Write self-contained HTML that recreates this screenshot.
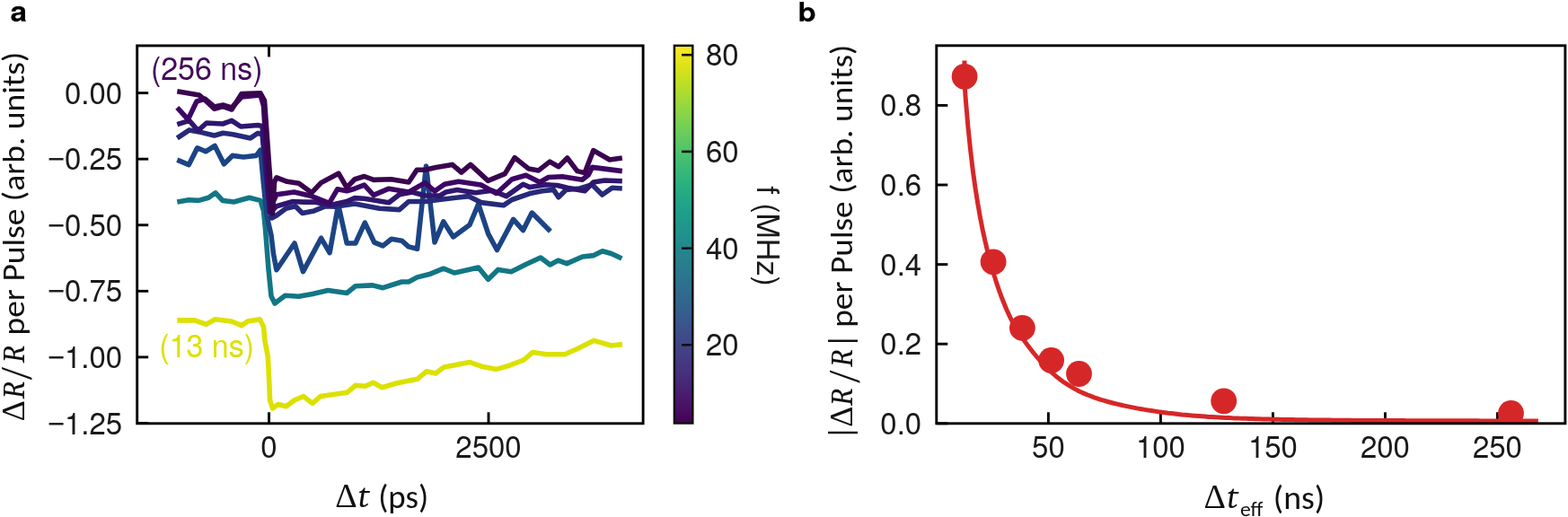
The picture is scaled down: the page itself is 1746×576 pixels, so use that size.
<!DOCTYPE html>
<html><head><meta charset="utf-8"><title>Figure</title>
<style>html,body{margin:0;padding:0;background:#fff;}body{width:1746px;height:576px;overflow:hidden;}svg{display:block;}</style>
</head><body>
<svg width="1746" height="576" viewBox="0 0 1746 576">
<defs>
<linearGradient id="vir" x1="0" y1="0" x2="0" y2="1"><stop offset="0.0000" stop-color="#fde725"/><stop offset="0.0312" stop-color="#ece51b"/><stop offset="0.0625" stop-color="#d8e219"/><stop offset="0.0938" stop-color="#c2df23"/><stop offset="0.1250" stop-color="#addc30"/><stop offset="0.1562" stop-color="#98d83e"/><stop offset="0.1875" stop-color="#84d44b"/><stop offset="0.2188" stop-color="#70cf57"/><stop offset="0.2500" stop-color="#5ec962"/><stop offset="0.2812" stop-color="#4ec36b"/><stop offset="0.3125" stop-color="#3fbc73"/><stop offset="0.3438" stop-color="#32b67a"/><stop offset="0.3750" stop-color="#28ae80"/><stop offset="0.4062" stop-color="#22a785"/><stop offset="0.4375" stop-color="#1fa088"/><stop offset="0.4688" stop-color="#1f988b"/><stop offset="0.5000" stop-color="#21918c"/><stop offset="0.5312" stop-color="#23898e"/><stop offset="0.5625" stop-color="#26828e"/><stop offset="0.5938" stop-color="#297a8e"/><stop offset="0.6250" stop-color="#2c728e"/><stop offset="0.6562" stop-color="#2f6b8e"/><stop offset="0.6875" stop-color="#33638d"/><stop offset="0.7188" stop-color="#375b8d"/><stop offset="0.7500" stop-color="#3b528b"/><stop offset="0.7812" stop-color="#3e4989"/><stop offset="0.8125" stop-color="#424086"/><stop offset="0.8438" stop-color="#453781"/><stop offset="0.8750" stop-color="#472d7b"/><stop offset="0.9062" stop-color="#482374"/><stop offset="0.9375" stop-color="#48186a"/><stop offset="0.9688" stop-color="#470d60"/><stop offset="1.0000" stop-color="#440154"/></linearGradient>
<clipPath id="clipa"><rect x="152.7" y="50.9" width="563.4000000000001" height="420.90000000000003"/></clipPath>
<clipPath id="clipb"><rect x="1042.8" y="50.8" width="700.1000000000001" height="421.0"/></clipPath>
</defs>
<rect width="1746" height="576" fill="#fff"/>
<g clip-path="url(#clipa)" fill="none" stroke-linejoin="round" stroke-linecap="butt">
<polyline points="197.3,356.9 217.0,356.9 229.5,361.4 239.6,355.8 257.7,358.0 269.0,362.6 275.7,358.0 289.3,355.8 293.5,364.0 295.0,380.0 298.3,397.0 299.5,420.0 300.6,446.0 303.5,455.0 309.6,450.5 318.6,452.8 327.6,446.0 337.8,441.5 347.9,449.4 356.9,441.5 386.6,437.2 395.9,429.4 406.9,430.2 415.5,426.2 425.6,431.7 441.2,427.0 464.7,422.3 474.8,413.8 485.0,416.1 494.4,409.0 523.3,403.6 537.5,408.6 552.8,411.4 565.3,407.9 583.3,401.0 593.0,392.6 608.3,394.7 629.2,394.7 643.0,388.5 661.1,379.4 680.6,385.0 693.0,383.6" stroke="#dce100" stroke-width="5.6"/>
<polyline points="197.3,225.0 210.3,222.7 221.2,223.4 232.2,220.3 240.0,214.8 247.8,223.4 260.3,225.0 277.5,220.3 290.0,223.4 293.5,235.0 295.5,255.0 299.0,300.0 302.0,330.0 306.0,338.0 317.5,329.3 332.8,330.3 348.0,327.4 365.2,323.6 386.2,326.5 395.8,318.8 414.9,317.9 426.4,320.7 447.4,314.0 455.0,314.0 464.6,308.9 479.2,305.2 493.8,299.2 505.9,304.0 532.7,298.0 543.6,311.3 554.6,300.4 569.2,302.8 586.2,294.3 602.0,287.0 612.5,295.0 621.5,290.1 631.2,293.6 648.6,286.0 661.1,284.6 670.8,279.7 680.6,282.5 692.4,288.0" stroke="#127685" stroke-width="5.6"/>
<polyline points="197.3,178.1 210.3,183.6 219.7,164.8 229.0,168.8 239.2,162.5 249.4,182.8 258.8,173.4 271.2,175.0 285.3,173.4 290.0,167.2 293.0,200.0 297.0,240.0 302.0,262.0 304.5,283.0 307.9,300.7 328.0,271.0 337.5,302.6 357.6,265.3 367.1,281.6 376.7,228.0 386.2,271.0 395.8,271.0 406.3,248.1 416.8,270.1 426.4,273.9 435.9,266.3 447.4,268.2 455.0,274.9 464.6,277.3 474.5,185.0 484.0,270.0 493.8,246.9 504.7,263.9 523.0,250.5 532.7,227.4 543.6,260.3 553.4,278.5 571.6,244.4 582.5,256.6 592.3,237.1 612.9,257.8" stroke="#1c4484" stroke-width="5.6"/>
<polyline points="197.3,153.9 210.8,144.9 224.7,147.6 238.6,151.0 248.3,148.3 259.4,149.7 278.9,153.9 287.2,148.3 292.0,150.0 299.0,220.0 302.5,243.0 308.0,240.1 318.4,232.3 328.9,229.7 336.7,237.5 349.7,234.9 362.7,229.7 373.1,230.3 395.0,227.1 422.6,232.3 444.7,233.6 455.1,224.5 473.3,224.5 488.8,222.5 521.6,218.6 535.6,225.6 560.6,228.8 570.0,222.5 590.0,215.6 603.9,212.8 616.4,211.4 621.9,219.7 630.3,211.4 645.6,210.0 659.4,205.8 670.6,217.0 681.7,209.3 692.8,210.0" stroke="#262a7a" stroke-width="5.6"/>
<polyline points="197.3,138.6 210.8,134.4 220.5,145.5 230.0,137.0 248.0,138.0 258.0,134.4 268.0,141.0 287.0,139.5 292.0,140.5 298.0,210.0 301.5,236.0 308.0,229.7 326.2,224.5 338.0,225.1 349.7,225.1 368.0,228.4 386.1,224.5 395.0,220.6 405.6,221.2 433.0,225.8 444.7,216.7 459.0,214.0 473.3,218.0 490.0,218.0 496.6,213.9 509.0,211.6 529.4,214.7 548.0,212.3 563.8,218.6 582.5,205.3 590.0,208.6 608.0,205.8 620.6,206.5 631.7,209.3 651.1,212.8 660.8,203.0 673.3,201.0 692.8,201.7" stroke="#2f1670" stroke-width="5.6"/>
<polyline points="197.3,119.9 209.4,133.0 219.0,113.0 228.0,110.0 238.6,119.0 248.3,117.0 258.0,120.0 269.0,108.0 290.0,106.0 293.5,118.0 300.5,236.0 303.5,226.0 308.0,216.7 327.5,214.0 347.1,218.6 366.6,226.4 375.7,210.8 386.1,212.8 395.0,210.2 405.6,206.2 416.0,217.3 433.0,210.2 455.1,214.0 473.3,203.6 484.0,213.0 495.0,205.3 510.6,202.2 535.6,206.0 552.8,215.5 570.0,199.8 585.6,195.2 601.1,203.0 610.8,197.5 626.1,196.8 648.3,200.3 655.3,194.7 659.4,186.4 692.8,190.6" stroke="#3d0664" stroke-width="5.6"/>
<polyline points="197.3,101.8 222.0,106.0 227.5,110.8 238.6,121.3 248.3,118.5 258.0,122.0 269.0,104.6 290.0,103.9 294.5,112.0 303.5,238.0 305.5,203.0 308.0,197.8 319.7,202.3 332.8,204.3 347.1,214.7 357.5,203.6 377.0,193.2 386.1,208.9 395.0,199.7 405.6,196.5 416.0,200.4 435.6,199.7 455.1,203.0 464.2,189.3 473.3,189.3 485.6,186.6 503.6,183.4 513.8,192.0 523.9,183.4 543.4,201.4 562.2,193.6 573.1,175.6 588.8,188.1 599.7,189.9 612.2,180.1 622.0,185.7 631.7,176.0 642.8,190.6 651.1,192.6 660.8,167.6 678.9,178.0 692.8,176.0" stroke="#3a044f" stroke-width="5.6"/>
</g>
<text transform="translate(167.9,80) scale(1,1.06)" y="8.3" font-family='"TeX Gyre Heros", "Liberation Sans", Arial, Helvetica, sans-serif' font-size="34" fill="#430a5c">(256 ns)</text>
<text transform="translate(177.2,389) scale(1,1.06)" y="8.3" font-family='"TeX Gyre Heros", "Liberation Sans", Arial, Helvetica, sans-serif' font-size="34" fill="#dce100">(13 ns)</text>
<g stroke="#000" stroke-width="2.9" fill="none">
<rect x="152.7" y="50.9" width="563.4000000000001" height="420.90000000000003"/>
<line x1="152.7" y1="103.60" x2="165.2" y2="103.60"/>
<line x1="152.7" y1="177.18" x2="165.2" y2="177.18"/>
<line x1="152.7" y1="250.75" x2="165.2" y2="250.75"/>
<line x1="152.7" y1="324.33" x2="165.2" y2="324.33"/>
<line x1="152.7" y1="397.90" x2="165.2" y2="397.90"/>
<line x1="152.7" y1="471.48" x2="165.2" y2="471.48"/>
<line x1="299.50" y1="471.8" x2="299.50" y2="459.3"/>
<line x1="544.00" y1="471.8" x2="544.00" y2="459.3"/>
<line x1="299.50" y1="50.9" x2="299.50" y2="63.4"/>
</g>
<g font-family='"TeX Gyre Heros", "Liberation Sans", Arial, Helvetica, sans-serif' font-size="33" fill="#1a1a1a">
<text transform="translate(136.2,103.60) scale(1,1.05)" y="11.5" text-anchor="end">0.00</text>
<text transform="translate(136.2,177.18) scale(1,1.05)" y="11.5" text-anchor="end"><tspan font-family="Liberation Sans, sans-serif">−</tspan>0.25</text>
<text transform="translate(136.2,250.75) scale(1,1.05)" y="11.5" text-anchor="end"><tspan font-family="Liberation Sans, sans-serif">−</tspan>0.50</text>
<text transform="translate(136.2,324.33) scale(1,1.05)" y="11.5" text-anchor="end"><tspan font-family="Liberation Sans, sans-serif">−</tspan>0.75</text>
<text transform="translate(136.2,397.90) scale(1,1.05)" y="11.5" text-anchor="end"><tspan font-family="Liberation Sans, sans-serif">−</tspan>1.00</text>
<text transform="translate(136.2,471.48) scale(1,1.05)" y="11.5" text-anchor="end"><tspan font-family="Liberation Sans, sans-serif">−</tspan>1.25</text>
<text transform="translate(299.5,498.3) scale(1,1.05)" y="11.5" text-anchor="middle">0</text>
<text transform="translate(544.0,498.3) scale(1,1.05)" y="11.5" text-anchor="middle">2500</text>
</g>
<rect x="750.9" y="50.8" width="20.399999999999977" height="420.7" fill="url(#vir)" stroke="#111" stroke-width="2.5"/>
<g stroke="#111" stroke-width="2.6">
<line x1="759.0" y1="384.30" x2="771.3" y2="384.30"/>
<line x1="759.0" y1="276.60" x2="771.3" y2="276.60"/>
<line x1="759.0" y1="168.90" x2="771.3" y2="168.90"/>
<line x1="759.0" y1="61.20" x2="771.3" y2="61.20"/>
</g>
<g font-family='"TeX Gyre Heros", "Liberation Sans", Arial, Helvetica, sans-serif' font-size="33" fill="#1a1a1a">
<text transform="translate(785.9,384.30) scale(1,1.05)" y="11.5">20</text>
<text transform="translate(785.9,276.60) scale(1,1.05)" y="11.5">40</text>
<text transform="translate(785.9,168.90) scale(1,1.05)" y="11.5">60</text>
<text transform="translate(785.9,61.20) scale(1,1.05)" y="11.5">80</text>
</g>
<text transform="translate(843,263) rotate(90)" text-anchor="middle" font-family='"TeX Gyre Heros", "Liberation Sans", Arial, Helvetica, sans-serif' font-size="34" fill="#1a1a1a">f (MHz)</text>
<g stroke="#000" stroke-width="2.9" fill="none">
<line x1="1042.8" y1="471.80" x2="1055.3" y2="471.80"/>
<line x1="1042.8" y1="383.20" x2="1055.3" y2="383.20"/>
<line x1="1042.8" y1="294.60" x2="1055.3" y2="294.60"/>
<line x1="1042.8" y1="206.00" x2="1055.3" y2="206.00"/>
<line x1="1042.8" y1="117.40" x2="1055.3" y2="117.40"/>
<line x1="1167.40" y1="471.8" x2="1167.40" y2="459.3"/>
<line x1="1292.40" y1="471.8" x2="1292.40" y2="459.3"/>
<line x1="1417.40" y1="471.8" x2="1417.40" y2="459.3"/>
<line x1="1542.40" y1="471.8" x2="1542.40" y2="459.3"/>
<line x1="1667.40" y1="471.8" x2="1667.40" y2="459.3"/>
</g>
<g clip-path="url(#clipb)">
<polyline points="1074.4,98.1 1075.0,106.5 1075.6,114.5 1076.3,122.1 1076.9,129.4 1077.5,136.4 1078.1,143.1 1078.8,149.5 1079.4,155.6 1080.0,161.6 1080.6,167.3 1081.3,172.8 1081.9,178.1 1082.5,183.2 1083.1,188.2 1083.7,193.0 1084.4,197.6 1085.0,202.1 1085.6,206.5 1086.2,210.7 1086.9,214.8 1087.5,218.8 1088.1,222.7 1088.7,226.5 1089.4,230.2 1090.0,233.8 1090.6,237.3 1091.2,240.7 1091.8,244.0 1092.5,247.3 1093.1,250.4 1093.7,253.5 1094.3,256.6 1095.0,259.6 1095.6,262.5 1096.2,265.3 1096.8,268.1 1097.5,270.8 1098.1,273.5 1098.7,276.1 1099.3,278.7 1100.0,281.2 1100.6,283.6 1101.2,286.1 1101.8,288.4 1102.4,290.8 1103.1,293.1 1103.7,295.3 1104.3,297.5 1104.9,299.7 1105.6,301.8 1106.2,303.9 1106.8,306.0 1107.4,308.0 1108.1,310.0 1108.7,312.0 1109.3,313.9 1109.9,315.8 1110.5,317.7 1111.2,319.6 1111.8,321.4 1112.4,323.2 1113.0,324.9 1113.7,326.7 1114.3,328.4 1114.9,330.1 1115.5,331.7 1116.2,333.4 1116.8,335.0 1117.4,336.5 1121.1,345.5 1124.9,353.6 1128.6,360.8 1132.4,367.2 1136.1,373.1 1139.9,378.6 1143.6,383.8 1147.4,388.7 1151.1,393.5 1154.9,398.0 1158.6,402.3 1162.3,406.3 1166.1,410.2 1169.8,413.8 1173.6,417.2 1177.3,420.3 1181.1,423.2 1184.8,425.9 1188.6,428.4 1192.3,430.7 1196.1,432.9 1199.8,434.9 1203.5,436.7 1207.3,438.4 1211.0,440.0 1214.8,441.4 1218.5,442.8 1222.3,444.1 1226.0,445.3 1229.8,446.4 1233.5,447.5 1237.2,448.5 1241.0,449.5 1244.7,450.4 1248.5,451.3 1252.2,452.1 1256.0,452.9 1259.7,453.6 1263.5,454.4 1267.2,455.1 1271.0,455.7 1274.7,456.4 1278.4,457.0 1282.2,457.5 1285.9,458.1 1289.7,458.7 1293.4,459.2 1297.2,459.7 1300.9,460.2 1304.7,460.6 1308.4,461.0 1312.2,461.5 1315.9,461.9 1319.6,462.2 1323.4,462.6 1327.1,462.9 1330.9,463.2 1334.6,463.5 1338.4,463.8 1342.1,464.1 1345.9,464.4 1349.6,464.6 1353.4,464.8 1357.1,465.0 1360.8,465.2 1364.6,465.4 1368.3,465.6 1372.1,465.8 1375.8,465.9 1379.6,466.1 1383.3,466.2 1387.1,466.3 1390.8,466.5 1394.6,466.6 1398.3,466.7 1402.0,466.8 1405.8,466.9 1409.5,467.0 1413.3,467.1 1417.0,467.2 1420.8,467.2 1424.5,467.3 1428.3,467.4 1432.0,467.5 1435.7,467.5 1439.5,467.6 1443.2,467.7 1447.0,467.7 1450.7,467.8 1454.5,467.8 1458.2,467.9 1462.0,467.9 1465.7,468.0 1469.5,468.0 1473.2,468.1 1476.9,468.1 1480.7,468.1 1484.4,468.2 1488.2,468.2 1491.9,468.2 1495.7,468.3 1499.4,468.3 1503.2,468.3 1506.9,468.4 1510.7,468.4 1514.4,468.4 1518.1,468.4 1521.9,468.5 1525.6,468.5 1529.4,468.5 1533.1,468.5 1536.9,468.5 1540.6,468.6 1544.4,468.6 1548.1,468.6 1551.9,468.6 1555.6,468.6 1559.3,468.6 1563.1,468.6 1566.8,468.7 1570.6,468.7 1574.3,468.7 1578.1,468.7 1581.8,468.7 1585.6,468.7 1589.3,468.7 1593.1,468.7 1596.8,468.7 1600.5,468.8 1604.3,468.8 1608.0,468.8 1611.8,468.8 1615.5,468.8 1619.3,468.8 1623.0,468.8 1626.8,468.8 1630.5,468.8 1634.2,468.8 1638.0,468.8 1641.7,468.8 1645.5,468.8 1649.2,468.9 1653.0,468.9 1656.7,468.9 1660.5,468.9 1664.2,468.9 1668.0,468.9 1671.7,468.9 1675.4,468.9 1679.2,468.9 1682.9,468.9 1686.7,468.9 1690.4,468.9 1694.2,468.9 1697.9,468.9 1701.7,468.9 1705.4,468.9 1709.2,469.0 1712.9,469.0" fill="none" stroke="#d62728" stroke-width="5.0" stroke-linejoin="round"/>
<line x1="1074.0" y1="85.6" x2="1074.0" y2="67.4" stroke="#d62728" stroke-width="5"/>
<circle cx="1074.1" cy="85.3" r="14.4" fill="#d62728"/>
<circle cx="1106.1" cy="291.8" r="14.4" fill="#d62728"/>
<circle cx="1138.4" cy="365.4" r="14.4" fill="#d62728"/>
<circle cx="1170.6" cy="401.5" r="14.4" fill="#d62728"/>
<circle cx="1201.5" cy="416.5" r="14.4" fill="#d62728"/>
<circle cx="1362.7" cy="446.8" r="14.4" fill="#d62728"/>
<circle cx="1682.5" cy="460.5" r="14.4" fill="#d62728"/>
</g>
<rect x="1042.8" y="50.8" width="700.1000000000001" height="421.0" stroke="#000" stroke-width="2.9" fill="none"/>
<g font-family='"TeX Gyre Heros", "Liberation Sans", Arial, Helvetica, sans-serif' font-size="33" fill="#1a1a1a">
<text transform="translate(1026.2,471.80) scale(1,1.05)" y="11.5" text-anchor="end">0.0</text>
<text transform="translate(1026.2,383.20) scale(1,1.05)" y="11.5" text-anchor="end">0.2</text>
<text transform="translate(1026.2,294.60) scale(1,1.05)" y="11.5" text-anchor="end">0.4</text>
<text transform="translate(1026.2,206.00) scale(1,1.05)" y="11.5" text-anchor="end">0.6</text>
<text transform="translate(1026.2,117.40) scale(1,1.05)" y="11.5" text-anchor="end">0.8</text>
<text transform="translate(1167.4,498.3) scale(1,1.05)" y="11.5" text-anchor="middle">50</text>
<text transform="translate(1292.4,498.3) scale(1,1.05)" y="11.5" text-anchor="middle">100</text>
<text transform="translate(1417.4,498.3) scale(1,1.05)" y="11.5" text-anchor="middle">150</text>
<text transform="translate(1542.4,498.3) scale(1,1.05)" y="11.5" text-anchor="middle">200</text>
<text transform="translate(1667.4,498.3) scale(1,1.05)" y="11.5" text-anchor="middle">250</text>
</g>
<text x="11.56" y="23.6" font-family='"TeX Gyre Heros", "Liberation Sans", Arial, Helvetica, sans-serif' font-weight="bold" font-size="30.5" fill="#000" textLength="18.6" lengthAdjust="spacingAndGlyphs">a</text>
<text x="888.6" y="23.5" font-family='"TeX Gyre Heros", "Liberation Sans", Arial, Helvetica, sans-serif' font-weight="bold" font-size="30" fill="#000" textLength="20.25" lengthAdjust="spacingAndGlyphs">b</text>
<g transform="translate(27.2,470.0) rotate(-90)" fill="#111"><text x="12.30" y="0" text-anchor="middle" font-family='"Liberation Serif", serif' font-size="36">Δ</text><text x="35.40" y="0" text-anchor="middle" font-family='"Caladea", "Liberation Serif", serif' font-size="34" font-style="italic">R</text><text transform="translate(54.00,5.8) scale(1,1.245)" x="0" y="0" text-anchor="middle" font-family='"Carlito", "Liberation Sans", sans-serif' font-size="36">/</text><text x="75.40" y="0" text-anchor="middle" font-family='"Caladea", "Liberation Serif", serif' font-size="34" font-style="italic">R</text><text x="96.50" y="0" font-family='"Carlito", "Liberation Sans", sans-serif' font-size="35" textLength="315.90" lengthAdjust="spacingAndGlyphs">per Pulse (arb. units)</text></g>
<g transform="translate(949.3,483.0) rotate(-90)" fill="#111"><text x="1.10" y="0" text-anchor="middle" font-family='"Carlito", "Liberation Sans", sans-serif' font-size="36">|</text><text x="18.75" y="0" text-anchor="middle" font-family='"Liberation Serif", serif' font-size="36">Δ</text><text x="40.60" y="0" text-anchor="middle" font-family='"Caladea", "Liberation Serif", serif' font-size="34" font-style="italic">R</text><text transform="translate(63.50,5.8) scale(1,1.245)" x="0" y="0" text-anchor="middle" font-family='"Carlito", "Liberation Sans", sans-serif' font-size="36">/</text><text x="83.80" y="0" text-anchor="middle" font-family='"Caladea", "Liberation Serif", serif' font-size="34" font-style="italic">R</text><text x="103.20" y="0" text-anchor="middle" font-family='"Carlito", "Liberation Sans", sans-serif' font-size="36">|</text><text x="118.20" y="0" font-family='"Carlito", "Liberation Sans", sans-serif' font-size="35" textLength="315.20" lengthAdjust="spacingAndGlyphs">per Pulse (arb. units)</text></g>
<g transform="translate(0,565.5)" fill="#111"><text x="385.50" y="-0.9" text-anchor="middle" font-family='"Liberation Serif", serif' font-size="38">Δ</text><text x="405.00" y="-0.9" text-anchor="middle" font-family='"Caladea", "Liberation Serif", serif' font-size="37" font-style="italic">t</text><text x="421.20" y="0" font-family='"Carlito", "Liberation Sans", sans-serif' font-size="37" textLength="56.00" lengthAdjust="spacingAndGlyphs">(ps)</text></g>
<g transform="translate(0,567.2)" fill="#111"><text x="1352.80" y="-0.9" text-anchor="middle" font-family='"Liberation Serif", serif' font-size="38">Δ</text><text x="1372.50" y="-0.9" text-anchor="middle" font-family='"Caladea", "Liberation Serif", serif' font-size="37" font-style="italic">t</text><text x="1417.80" y="0" font-family='"Carlito", "Liberation Sans", sans-serif' font-size="37" textLength="57.50" lengthAdjust="spacingAndGlyphs">(ns)</text><text x="1380.9" y="7.6" font-family='"Carlito", "Liberation Sans", sans-serif' font-size="23" textLength="25.5" lengthAdjust="spacingAndGlyphs">eff</text></g>
</svg>
</body></html>
